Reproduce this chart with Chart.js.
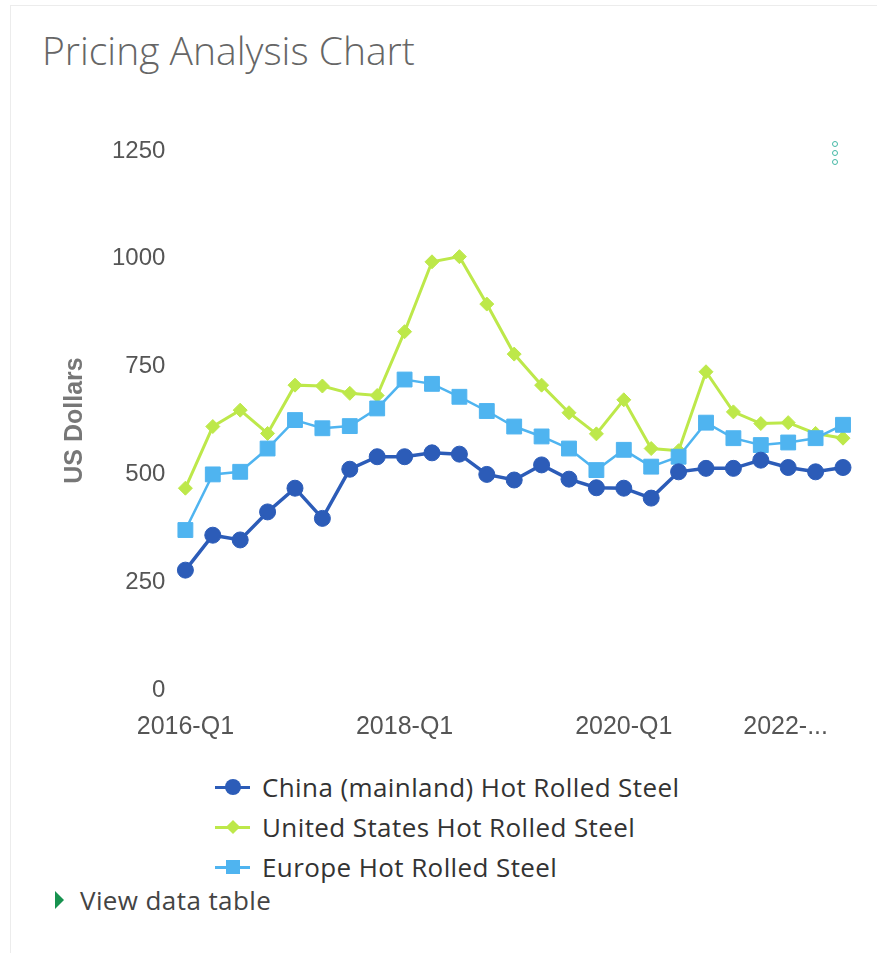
<!DOCTYPE html>
<html>
<head>
<meta charset="utf-8">
<script src="https://cdn.jsdelivr.net/npm/chart.js@4.4.0/dist/chart.umd.min.js"></script>
<style>
  body { margin: 0; background: #fff; width: 877px; height: 953px; overflow: hidden; position: relative; font-family: "Open Sans", sans-serif; }
  .card { position: absolute; left: 10px; top: 5px; width: 866px; height: 947px; border-top: 1px solid #ececec; border-left: 1px solid #ececec; }
  h1 { position: absolute; left: 42px; top: 26px; margin: 0; font-weight: 300; font-size: 39px; line-height: 48px; color: #666; }
  .dots { position: absolute; left: 832px; top: 141px; }
  .dots span { display: block; width: 4px; height: 4px; border: 1.5px solid #45b9a6; border-radius: 50%; margin-bottom: 3px; }
  #wrap { position: absolute; left: 0; top: 100px; width: 877px; height: 660px; }
  #legend { position: absolute; left: 215px; top: 767px; }
  .item { height: 40px; display: flex; align-items: center; font-size: 26px; letter-spacing: 0.4px; color: #333; white-space: nowrap; }
  .mk { position: relative; width: 35px; height: 20px; margin-right: 12px; }
  .mk .ln { position: absolute; left: 0; top: 8.5px; width: 35px; height: 3px; }
  .mk .pt { position: absolute; }
  .toggle { position: absolute; left: 55px; top: 882px; height: 36px; display: flex; align-items: center; font-size: 26px; letter-spacing: 0.4px; color: #444; }
  .toggle .tri { width: 0; height: 0; border-top: 9px solid transparent; border-bottom: 9px solid transparent; border-left: 9px solid #17924f; margin-right: 16px; }
</style>
</head>
<body>
<div class="card"></div>
<h1>Pricing Analysis Chart</h1>
<div class="dots"><span></span><span></span><span></span></div>
<div id="wrap"><canvas id="pricing"></canvas></div>
<div id="legend"></div>
<div class="toggle"><div class="tri"></div>View data table</div>
<script>
var quarters = ['2016-Q1','2016-Q2','2016-Q3','2016-Q4','2017-Q1','2017-Q2','2017-Q3','2017-Q4',
                '2018-Q1','2018-Q2','2018-Q3','2018-Q4','2019-Q1','2019-Q2','2019-Q3','2019-Q4',
                '2020-Q1','2020-Q2','2020-Q3','2020-Q4','2021-Q1','2021-Q2','2021-Q3','2021-Q4','2022-Q1']
var china  = [278, 359, 348, 413, 468, 398, 512, 541, 541, 550, 547, 500, 487, 522, 489, 469, 468, 445, 506, 514, 514, 533, 516, 506, 516]
var usa    = [468, 611, 649, 595, 707, 705, 688, 683, 831, 993, 1005, 895, 779, 707, 643, 594, 673, 560, 555, 738, 645, 618, 620, 595, 584]
var europe = [371, 500, 506, 560, 626, 607, 612, 653, 720, 710, 680, 647, 611, 588, 560, 510, 557, 518, 541, 620, 584, 568, 574, 584, 615]
var yTicks = [0, 250, 500, 750, 1000, 1250]

var cores = ['#2c5cb8', '#bde84a', '#4fb4f0']

Chart.defaults.font.family = '"Liberation Sans", Arial, sans-serif'
Chart.defaults.color = '#555'

// both x axes sit on the same line: no layout room, labels pushed down (mirror = no clipping)
function noHeight(scale) { scale.height = 0 }

var ctx = document.getElementById('pricing')
var chartLine = new Chart(ctx, {
    type: 'line',
    data: {
        labels: quarters,
        datasets: [
            {
                label: 'China (mainland) Hot Rolled Steel',
                data: china,
                borderColor: cores[0],
                backgroundColor: cores[0],
                borderWidth: 3.5,
                pointStyle: 'circle',
                pointRadius: 8,
                pointBorderWidth: 1,
                order: 0,
                clip: false
            },
            {
                label: 'United States Hot Rolled Steel',
                data: usa,
                borderColor: cores[1],
                backgroundColor: cores[1],
                borderWidth: 3,
                pointStyle: 'rectRot',
                pointRadius: 7,
                pointBorderWidth: 1,
                order: 2,
                clip: false
            },
            {
                label: 'Europe Hot Rolled Steel',
                data: europe,
                borderColor: cores[2],
                backgroundColor: cores[2],
                borderWidth: 2.5,
                pointStyle: 'rect',
                pointRadius: 10.5,
                pointBorderWidth: 1,
                order: 1,
                clip: false
            }
        ]
    },
    options: {
        responsive: true,
        maintainAspectRatio: false,
        animation: false,
        layout: { padding: { left: 56, top: 51, right: 34, bottom: 70 } },
        plugins: {
            legend: { display: false },
            tooltip: { enabled: false }
        },
        scales: {
            x: {
                type: 'category',
                position: 'bottom',
                offset: false,
                grid: { display: false, drawTicks: false },
                border: { display: false },
                afterFit: noHeight,
                ticks: {
                    autoSkip: false,
                    maxRotation: 0,
                    mirror: true,
                    padding: -52,
                    font: { size: 25 },
                    callback: function(value, index) {
                        return (index % 8 === 0 && index < quarters.length - 1) ? this.getLabelForValue(value) : ''
                    }
                }
            },
            x2: {
                type: 'category',
                position: 'bottom',
                offset: false,
                grid: { display: false, drawTicks: false },
                border: { display: false },
                afterFit: noHeight,
                ticks: {
                    autoSkip: false,
                    maxRotation: 0,
                    mirror: true,
                    align: 'end',
                    labelOffset: -15,
                    padding: -52,
                    font: { size: 25 },
                    callback: function(value, index) {
                        // last label gets cut like the original widget does
                        if (index !== quarters.length - 1) return ''
                        return this.getLabelForValue(value).slice(0, 5) + '...'
                    }
                }
            },
            y: {
                min: yTicks[0],
                max: yTicks[yTicks.length - 1],
                grid: { display: false, drawTicks: false },
                border: { display: false },
                afterBuildTicks: function(scale) {
                    scale.ticks = yTicks.map(function(v) { return { value: v } })
                },
                ticks: {
                    padding: 20,
                    font: { size: 24 },
                    callback: function(value) { return String(value) }
                },
                title: {
                    display: true,
                    text: 'US Dollars',
                    color: '#777',
                    padding: { top: 4, bottom: 2 },
                    font: { size: 25, weight: 'bold' }
                }
            }
        }
    }
})

// html legend, one row per series like the original
var legendBox = document.getElementById('legend')
chartLine.data.datasets.forEach(function(ds) {
    var row = document.createElement('div')
    row.className = 'item'
    var mk = document.createElement('div')
    mk.className = 'mk'
    var ln = document.createElement('div')
    ln.className = 'ln'
    ln.style.background = ds.borderColor
    var pt = document.createElement('div')
    pt.className = 'pt'
    pt.style.background = ds.backgroundColor
    if (ds.pointStyle === 'circle') {
        pt.style.cssText += 'width:16px;height:16px;left:9.5px;top:2px;border-radius:50%;'
    } else if (ds.pointStyle === 'rectRot') {
        pt.style.cssText += 'width:10px;height:10px;left:12.5px;top:5px;transform:rotate(45deg);'
    } else {
        pt.style.cssText += 'width:14px;height:14px;left:10.5px;top:3px;'
    }
    mk.appendChild(ln)
    mk.appendChild(pt)
    var txt = document.createElement('span')
    txt.textContent = ds.label
    row.appendChild(mk)
    row.appendChild(txt)
    legendBox.appendChild(row)
})
</script>
</body>
</html>
